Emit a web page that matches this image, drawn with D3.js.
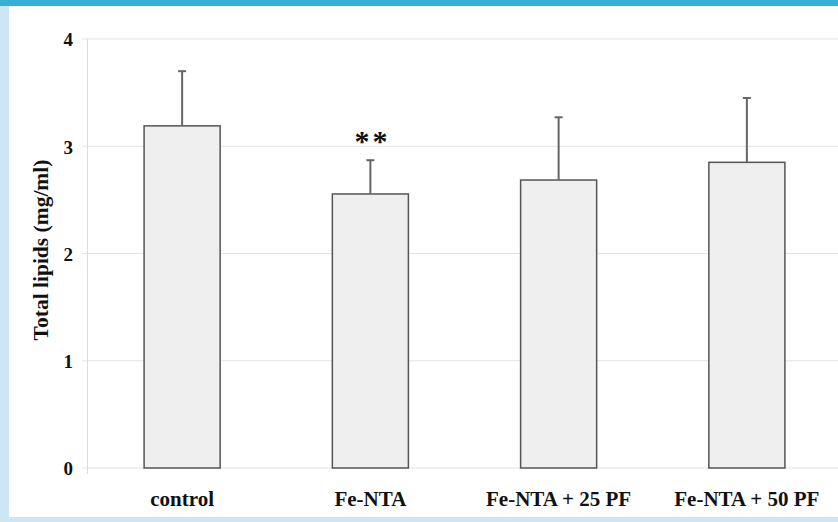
<!DOCTYPE html>
<html>
<head>
<meta charset="utf-8">
<script src="https://cdn.jsdelivr.net/npm/d3@7"></script>
<style>
body { margin: 0; background: #fff; }
svg text { font-family: "Liberation Serif", "Times New Roman", serif; font-weight: bold; fill: #111; }
</style>
</head>
<body>
<svg id="Viz"></svg>
<script>
let groups = ["control", "Fe-NTA", "Fe-NTA + 25 PF", "Fe-NTA + 50 PF"];
let means = [3.19, 2.555, 2.685, 2.85];
let errors = [0.51, 0.315, 0.585, 0.60];
let marks = ["", "**", "", ""];
let yTicks = [0, 1, 2, 3, 4];

let Width = 838, Height = 522;
let vizArea = d3.select('#Viz').attr("width", Width).attr("height", Height);

// frame
vizArea.append("rect").attr("x", 0).attr("y", 0).attr("width", Width).attr("height", Height).attr("fill", "#cbe6f4");
vizArea.append("rect").attr("x", 9).attr("y", 6).attr("width", Width - 9).attr("height", 511).attr("fill", "#fff");
vizArea.append("rect").attr("x", 0).attr("y", 0).attr("width", Width).attr("height", 6).attr("fill", "#38afd6");

let xScale = d3.scaleBand().domain(groups).range([88, 841]).paddingInner(0.596).paddingOuter(0.298);
let yScale = d3.scaleLinear().domain([0, 4]).range([468, 39]);

// grid
vizArea.append("g")
  .selectAll("line").data(yTicks).enter().append("line")
  .attr("x1", 82).attr("x2", Width)
  .attr("y1", d => yScale(d)).attr("y2", d => yScale(d))
  .attr("stroke", "#e4e4e4").attr("stroke-width", 1.2);

vizArea.append("line").attr("x1", 87.5).attr("x2", 87.5)
  .attr("y1", yScale(4)).attr("y2", yScale(0) + 6)
  .attr("stroke", "#dcdcdc").attr("stroke-width", 1);

// y axis labels
let yAxis = vizArea.append("g")
  .attr("transform", "translate(73,0)")
  .call(d3.axisLeft(yScale).tickValues(yTicks).tickSize(0).tickPadding(0).tickFormat(d3.format("d")));
yAxis.select(".domain").remove();
yAxis.selectAll("text").style("font-size", "19px").attr("font-family", null).attr("dy", "0.36em");

vizArea.append("text")
  .attr("transform", "translate(48,250) rotate(-90)")
  .attr("text-anchor", "middle")
  .style("font-size", "21.5px")
  .text("Total lipids (mg/ml)");

// bars
vizArea.selectAll(".bar").data(groups).enter().append("rect")
  .attr("class", "bar")
  .attr("x", d => xScale(d))
  .attr("y", (d, i) => yScale(means[i]))
  .attr("width", xScale.bandwidth())
  .attr("height", (d, i) => yScale(0) - yScale(means[i]))
  .attr("fill", "#efefef").attr("stroke", "#555").attr("stroke-width", 1.5);

// error bars
let cx = d => xScale(d) + xScale.bandwidth() / 2;
vizArea.selectAll(".err").data(groups).enter().append("line")
  .attr("x1", cx).attr("x2", cx)
  .attr("y1", (d, i) => yScale(means[i]))
  .attr("y2", (d, i) => yScale(means[i] + errors[i]))
  .attr("stroke", "#666").attr("stroke-width", 2);
vizArea.selectAll(".cap").data(groups).enter().append("line")
  .attr("x1", d => cx(d) - 4).attr("x2", d => cx(d) + 4)
  .attr("y1", (d, i) => yScale(means[i] + errors[i]))
  .attr("y2", (d, i) => yScale(means[i] + errors[i]))
  .attr("stroke", "#666").attr("stroke-width", 2);

// significance
vizArea.selectAll(".sig").data(groups).enter().append("text")
  .attr("x", d => cx(d) + 2)
  .attr("y", (d, i) => yScale(means[i] + errors[i]) - 9)
  .attr("text-anchor", "middle")
  .style("font-size", "30px").style("letter-spacing", "3px")
  .text((d, i) => marks[i]);

// x labels
vizArea.selectAll(".xl").data(groups).enter().append("text")
  .attr("x", cx).attr("y", 506)
  .attr("text-anchor", "middle")
  .style("font-size", "21px")
  .text(d => d);
</script>
</body>
</html>
